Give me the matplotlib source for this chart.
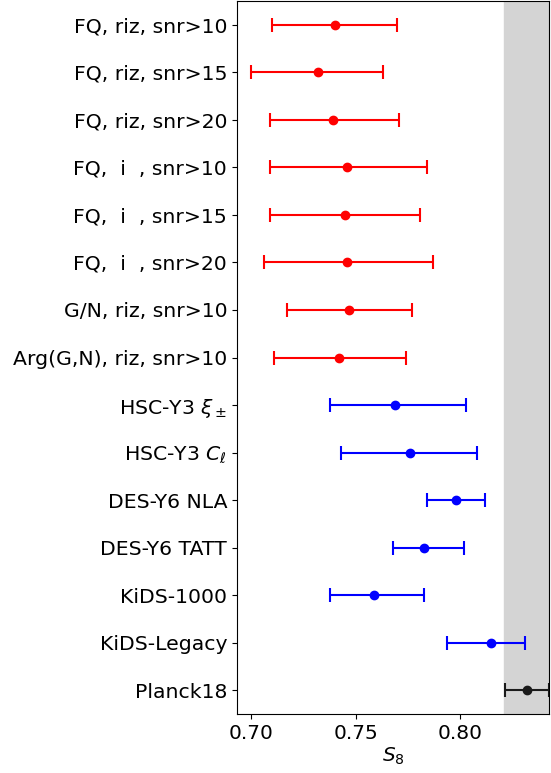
import numpy as np
import matplotlib
matplotlib.use('agg')
import matplotlib.pyplot as plt

# S8 constraints: value, lower error, upper error
labels = ['FQ, riz, snr>10', 'FQ, riz, snr>15', 'FQ, riz, snr>20',
          'FQ,  i  , snr>10', 'FQ,  i  , snr>15', 'FQ,  i  , snr>20',
          'G/N, riz, snr>10', 'Arg(G,N), riz, snr>10',
          r'HSC-Y3 $\xi_\pm$', r'HSC-Y3 $C_\ell$',
          'DES-Y6 NLA', 'DES-Y6 TATT', 'KiDS-1000', 'KiDS-Legacy', 'Planck18']
s8 = np.array([0.740, 0.732, 0.739, 0.746, 0.745, 0.746, 0.747, 0.742,
               0.769, 0.776, 0.798, 0.783, 0.759, 0.815, 0.832])
err_lo = np.array([0.030, 0.032, 0.030, 0.037, 0.036, 0.040, 0.030, 0.031,
                   0.031, 0.033, 0.014, 0.015, 0.021, 0.021, 0.0105])
err_hi = np.array([0.030, 0.031, 0.032, 0.038, 0.036, 0.041, 0.030, 0.032,
                   0.034, 0.032, 0.014, 0.019, 0.024, 0.016, 0.0105])
colors = ['red'] * 8 + ['blue'] * 6 + ['#1a1a1a']

planck_band = (0.821, 0.850)

fig = plt.figure(figsize=(5.51, 7.73), dpi=100)
ax = fig.add_axes([0.430, 0.0763, 0.567, 0.9224])

ax.axvspan(*planck_band, color='#d4d4d4', zorder=0)

ypos = np.arange(len(labels))
for y, v, lo, hi, c in zip(ypos, s8, err_lo, err_hi, colors):
    ax.errorbar(v, y, xerr=[[lo], [hi]], fmt='o', color=c, ms=6,
                capsize=5, elinewidth=1.5, capthick=1.5)

ax.set_yticks(ypos)
ax.set_yticklabels(labels, fontsize=14.7)
ax.set_ylim(len(labels) - 0.5, -0.5)
ax.set_xlim(0.6932, 0.8428)
ax.set_xticks([0.70, 0.75, 0.80])
ax.tick_params(axis='x', labelsize=14.5)
ax.set_xlabel('$S_8$', fontsize=14.5, labelpad=2)

fig.savefig('out.png', dpi=100)
